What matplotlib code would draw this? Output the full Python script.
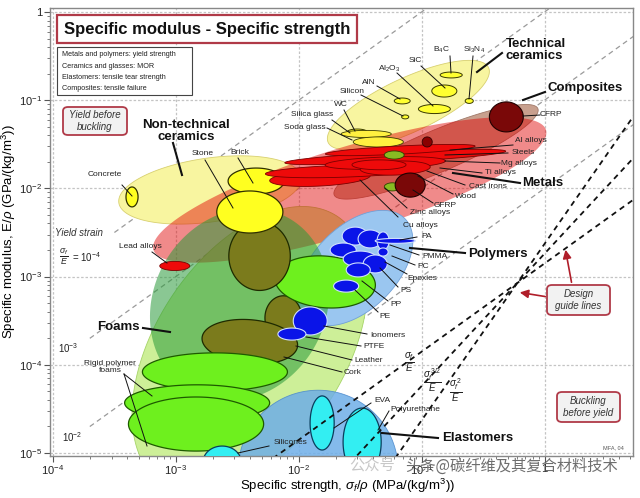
import numpy as np
import matplotlib
matplotlib.use("Agg")
import matplotlib.pyplot as plt
from matplotlib.lines import Line2D
from matplotlib.patches import FancyBboxPatch, Rectangle, FancyArrowPatch

plt.rcParams['font.family'] = ['Liberation Sans', 'DejaVu Sans']
plt.rcParams['mathtext.fontset'] = 'custom'
plt.rcParams['mathtext.rm'] = 'Liberation Sans'
plt.rcParams['mathtext.it'] = 'Liberation Sans:italic'
plt.rcParams['mathtext.bf'] = 'Liberation Sans:bold'
plt.rcParams['mathtext.sf'] = 'Liberation Sans'

# ------------------------------------------------------------------ data
# Family envelopes (drawn back to front): centre strength (MPa/(kg/m3)),
# centre modulus (GPa/(kg/m3)), semi-axes in decades, tilt in degrees
env_names = ['Foams', 'Elastomers', 'Non-technical ceramics', 'Technical ceramics',
             'Composites', 'Metals', 'Polymers', 'Natural materials']
env_strength = [4.0e-3, 1.44e-2, 1.9e-3, 7.8e-2, 0.131, 2.6e-2, 2.88e-2, 3.3e-3]
env_modulus = [1.47e-4, 6.4e-6, 9.6e-3, 8.8e-2, 2.6e-2, 9.6e-3, 1.25e-3, 4.8e-4]
env_span_a = [1.30, 0.65, 0.75, 0.72, 0.90, 1.67, 0.57, 0.81]
env_span_b = [0.77, 0.65, 0.26, 0.22, 0.17, 0.35, 0.34, 0.70]
env_tilt = [57, 0, 8, 25, 23, 17, 45, 60]

# Individual materials
mat_names = ['olive2', 'olive3', 'Flexible foams', 'Cork/wood', 'Rigid foam 1', 'Rigid foam 2',
             'Rigid foam 3', 'Silicones', 'EVA', 'Polyurethane',
             'Concrete', 'Brick', 'Stone',
             'B4C', 'SiC', 'Si3N4', 'AlN', 'Al2O3', 'Silicon', 'WC', 'Silica glass', 'Soda glass',
             'Cu/Zinc alloys', 'Cast irons', 'Steels', 'Al alloys', 'Mg alloys', 'Ti alloys',
             'Ni alloys', 'Lead alloys', 'W alloys', 'Wood 1', 'Wood 2', 'CFRP', 'GFRP',
             'p1', 'p2', 'p3', 'p4', 'p5', 'p6', 'PA', 'PA2', 'PMMA', 'PE', 'Ionomers', 'PTFE']
mat_group = ['nat', 'nat', 'foam', 'nat', 'foam', 'foam', 'foam', 'elast', 'elast', 'elast',
             'ntc', 'ntc', 'ntc',
             'tc', 'tc', 'tc', 'tc', 'tc', 'tc', 'tc', 'glass', 'glass',
             'metal', 'metal', 'metal', 'metal', 'metal', 'metal', 'metal', 'metal', 'dark',
             'wood', 'wood', 'comp', 'comp',
             'poly', 'poly', 'poly', 'poly', 'poly', 'poly', 'poly', 'poly', 'poly', 'poly', 'poly', 'poly']
mat_strength = [7.5e-3, 4.0e-3, 1.64e-2, 4.8e-3, 2.08e-3, 1.49e-3, 1.46e-3, 2.38e-3, 1.55e-2, 3.28e-2,
                4.4e-4, 4.5e-3, 4.0e-3,
                0.174, 0.153, 0.244, 0.0695, 0.127, 0.0735, 0.0299, 0.0354, 0.0444,
                0.0149, 0.0239, 0.061, 0.067, 0.0506, 0.061, 0.045, 9.8e-4, 0.111,
                0.0598, 0.0577, 0.489, 0.0807,
                0.0288, 0.0381, 0.023, 0.0316, 0.0419, 0.0305, 0.0486, 0.061, 0.0486, 0.0243, 0.0124, 8.8e-3]
mat_modulus = [3.4e-4, 1.82e-4, 8.7e-4, 1.71e-3, 8.3e-5, 3.7e-5, 2.13e-5, 7.9e-6, 2.19e-5, 1.33e-5,
               8.0e-3, 1.21e-2, 5.4e-3,
               0.193, 0.127, 0.098, 0.098, 0.0794, 0.0646, 0.0436, 0.0414, 0.0336,
               0.0131, 0.0157, 0.0227, 0.0272, 0.0194, 0.017, 0.0185, 1.32e-3, 0.0336,
               0.0239, 0.0104, 0.0646, 0.0109,
               2.88e-3, 2.67e-3, 2.0e-3, 1.58e-3, 1.39e-3, 1.19e-3, 2.54e-3, 2.54e-3, 1.9e-3, 7.8e-4, 3.14e-4, 2.23e-4]
mat_span_a = [0.15, 0.39, 0.41, 0.25, 0.59, 0.59, 0.55, 0.155, 0.098, 0.155,
              0.049, 0.228, 0.269,
              0.090, 0.102, 0.033, 0.065, 0.130, 0.029, 0.081, 0.204, 0.204,
              0.41, 0.65, 0.90, 0.61, 0.49, 0.285, 0.22, 0.122, 0.041,
              0.081, 0.065, 0.138, 0.122,
              0.106, 0.098, 0.106, 0.138, 0.098, 0.098, 0.049, 0.163, 0.041, 0.102, 0.138, 0.114]
mat_span_b = [0.18, 0.18, 0.21, 0.28, 0.155, 0.147, 0.22, 0.13, 0.22, 0.277,
              0.081, 0.106, 0.171,
              0.024, 0.049, 0.020, 0.024, 0.037, 0.016, 0.024, 0.029, 0.041,
              0.065, 0.049, 0.041, 0.033, 0.049, 0.057, 0.04, 0.037, 0.041,
              0.033, 0.033, 0.122, 0.098,
              0.073, 0.073, 0.057, 0.065, 0.073, 0.057, 0.073, 0.020, 0.033, 0.049, 0.114, 0.049]
mat_tilt = [0, -5, -5, 0, 0, 0, 0, 0, 0, 0,
            0, 0, 0,
            0, 0, 0, 0, 0, 0, 0, 0, 0,
            3, 2, 3, 3, 2, 2, 0, 0, 0,
            0, 0, 0, 0,
            0, 0, 0, 0, 0, 0, 0, 0, 0, 0, 0, 0]

# Guide lines
strain_values = [1e-4, 1e-3, 1e-2, 1e-1]
strain_start = [2.65e-4, 1.74e-4, 1.82e-4, 1e-4]
guide_exponents = [1.0, 1.5, 2.0]
guide_anchor = (0.60, 8.45e-4)

x_ticks = [1e-4, 1e-3, 1e-2, 1e-1, 1]
x_ticklabels = ['10$^{-4}$', '10$^{-3}$', '10$^{-2}$', '10$^{-1}$', '1']
y_ticks = [1e-5, 1e-4, 1e-3, 1e-2, 1e-1, 1]
y_ticklabels = ['10$^{-5}$', '10$^{-4}$', '10$^{-3}$', '10$^{-2}$', '10$^{-1}$', '1']

# ------------------------------------------------------------------ styles
env_style = {
    'Foams': dict(fc='#cdef98', ec='#a6d468', lw=0.6, alpha=1.0),
    'Elastomers': dict(fc='#6eaee8', ec='#4a88cc', lw=0.6, alpha=0.85),
    'Non-technical ceramics': dict(fc='#f8f5a0', ec='#d8d070', lw=0.6, alpha=1.0),
    'Technical ceramics': dict(fc='#f8f5a0', ec='#d8d070', lw=0.6, alpha=1.0),
    'Composites': dict(fc='#c8a08e', ec='#a07868', lw=0.6, alpha=1.0),
    'Metals': dict(fc='#e00000', ec='none', lw=0, alpha=0.46),
    'Polymers': dict(fc='#9ac6f0', ec='#70a0d8', lw=0.6, alpha=1.0),
    'Natural materials': dict(fc='#2a9a3a', ec='none', lw=0, alpha=0.55),
}
grp_style = {
    'nat': dict(fc='#7b7b1c', ec='#1e2a00', lw=0.9),
    'foam': dict(fc='#6ef01e', ec='#1e5a00', lw=0.9),
    'elast': dict(fc='#33eef2', ec='#0a3d5c', lw=0.9),
    'ntc': dict(fc='#ffff20', ec='#303000', lw=0.9),
    'tc': dict(fc='#ffff30', ec='#3a3a00', lw=0.7),
    'glass': dict(fc='#fff040', ec='#3a3a00', lw=0.6),
    'metal': dict(fc='#ee0a0a', ec='#7a0000', lw=0.6),
    'dark': dict(fc='#8b0000', ec='#300000', lw=0.6),
    'wood': dict(fc='#88bb22', ec='#304000', lw=0.6),
    'comp': dict(fc='#7a0808', ec='#200000', lw=0.8),
    'poly': dict(fc='#0a14e8', ec='#d0e0ff', lw=0.8),
}

W, H = 640, 498
fig = plt.figure(figsize=(W / 100, H / 100), dpi=100)
ax = fig.add_axes([50 / W, 1 - 456 / H, 583 / W, 448 / H])
ax.set_xscale('log')
ax.set_yscale('log')
ax.set_xlim(10 ** -4.024, 10 ** 0.72)
ax.set_ylim(10 ** -5.034, 10 ** 0.045)

# ratio of pixels per x-decade to pixels per y-decade (so tilts are visual)
p0 = ax.transData.transform((1, 1))
K = (ax.transData.transform((10, 1))[0] - p0[0]) / (ax.transData.transform((1, 10))[1] - p0[1])


def ell(x, y, a, b, ang, z, **kw):
    t = np.linspace(0, 2 * np.pi, 241)
    th = np.deg2rad(ang)
    u = a * np.cos(t) * np.cos(th) - b * np.sin(t) * np.sin(th)
    v = a * np.cos(t) * np.sin(th) + b * np.sin(t) * np.cos(th)
    ax.fill(x * 10 ** u, y * 10 ** (v * K), zorder=z, **kw)


ax.grid(True, which='major', color='#c4c4c4', lw=0.9, ls=(0, (2, 1.5)))
ax.set_axisbelow(True)

# gray strain guide lines
xr = np.logspace(-4.1, 0.8, 50)
for s, x0 in zip(strain_values, strain_start):
    xs = xr[xr >= x0]
    ax.plot(xs, 1e-3 * xs / s, color='#9a9a9a', lw=0.9, ls=(0, (4, 3)), zorder=1)

for i, n in enumerate(env_names):
    st = env_style[n]
    ell(env_strength[i], env_modulus[i], env_span_a[i], env_span_b[i], env_tilt[i], 2 + i * 0.01,
        facecolor=st['fc'], edgecolor=st['ec'], linewidth=st['lw'], alpha=st['alpha'])

for i, n in enumerate(mat_names):
    st = grp_style[mat_group[i]]
    ell(mat_strength[i], mat_modulus[i], mat_span_a[i], mat_span_b[i], mat_tilt[i], 3 + i * 0.01,
        facecolor=st['fc'], edgecolor=st['ec'], linewidth=st['lw'])

# black design guide lines
xg = np.logspace(-3, 0.8, 60)
for n in guide_exponents:
    ax.plot(xg, guide_anchor[1] * (xg / guide_anchor[0]) ** n, color='#111111', lw=1.3,
            ls=(0, (3, 2.5)), zorder=6)

ax.set_xticks(x_ticks)
ax.set_xticklabels(x_ticklabels)
ax.set_yticks(y_ticks)
ax.set_yticklabels(y_ticklabels)
ax.tick_params(which='major', direction='out', length=4, width=0.8, color='#555555',
               labelsize=8, labelcolor='#222222', pad=1.5)
ax.tick_params(which='minor', direction='out', length=2.5, width=0.6, color='#666666')
for sp in ax.spines.values():
    sp.set_color('#888888')
    sp.set_linewidth(1.0)
ax.set_xlabel('Specific strength, $\\sigma_f/\\rho$ (MPa/(kg/m$^3$))', fontsize=9.5)
ax.set_ylabel('Specific modulus, E/$\\rho$ (GPa/(kg/m$^3$))', fontsize=9.5)
ax.xaxis.set_label_coords(0.51, -0.046)
ax.yaxis.set_label_coords(-0.055, 0.5)


# ------------------------------------------------------------------ annotations (figure pixels)
def F(px, py):
    return px / W, 1 - py / H


def T(px, py, s, size=6, ha='center', va='center', **kw):
    fig.text(*F(px, py), s, fontsize=size, ha=ha, va=va, zorder=20, **kw)


def L(x1, y1, x2, y2, lw=0.7, color='#111111'):
    a, b = F(x1, y1)
    c, d = F(x2, y2)
    fig.add_artist(Line2D([a, c], [b, d], lw=lw, color=color, transform=fig.transFigure, zorder=19))


member_labels = [
    ('B$_4$C', 441, 50, 450, 56, 451, 73), ('Si$_3$N$_4$', 474, 50, 473, 56, 469, 99),
    ('SiC', 415, 61, 421, 66, 445, 88), ('Al$_2$O$_3$', 389, 69, 397, 73, 433, 106),
    ('AlN', 369, 82, 377, 86, 400, 99), ('Silicon', 352, 91, 361, 95, 403, 116),
    ('WC', 341, 105, 344, 110, 355, 131), ('Silica glass', 312, 115, 332, 120, 350, 133),
    ('Soda glass', 305, 127, 327, 128, 352, 140), ('CFRP', 551, 114, 540, 115, 523, 116),
    ('Al alloys', 531, 141, 513, 145, 450, 150), ('Steels', 523, 152, 508, 153, 445, 155),
    ('Mg alloys', 519, 163, 500, 163, 445, 161), ('Ti alloys', 500, 173, 482, 173, 440, 168),
    ('Cast irons', 488, 187, 465, 185, 427, 171), ('Wood', 466, 196, 453, 194, 418, 176),
    ('GFRP', 445, 205, 433, 203, 413, 190), ('Zinc alloys', 430, 213, 407, 208, 385, 188),
    ('Cu alloys', 420, 225, 398, 217, 360, 180), ('PA', 427, 236, 417, 237, 400, 240),
    ('PMMA', 435, 257, 419, 255, 390, 245), ('PC', 423, 267, 415, 265, 392, 256),
    ('Epoxies', 422, 278, 407, 274, 385, 262), ('PS', 406, 290, 398, 287, 380, 268),
    ('PP', 396, 305, 388, 301, 362, 281), ('PE', 385, 316, 378, 312, 355, 290),
    ('Ionomers', 388, 335, 367, 334, 324, 326), ('PTFE', 374, 347, 361, 346, 306, 337),
    ('Leather', 369, 360, 352, 360, 296, 346), ('Cork', 353, 372, 342, 372, 284, 357),
    ('EVA', 382, 400, 371, 403, 334, 428), ('Polyurethane', 415, 409, 389, 411, 378, 430),
    ('Silicones', 291, 443, 269, 446, 238, 453), ('Concrete', 105, 175, 122, 185, 132, 196),
    ('Stone', 203, 153, 205, 160, 233, 208), ('Brick', 240, 152, 238, 158, 253, 183),
    ('Lead alloys', 140, 247, 152, 252, 167, 263),
]
for s, tx, ty, x1, y1, x2, y2 in member_labels:
    T(tx, ty, s, size=6, color='#222222')
    L(x1, y1, x2, y2)
T(110, 367, 'Rigid polymer\nfoams', size=6, color='#222222', linespacing=1.0)
L(124, 374, 152, 396)
L(124, 374, 147, 446)

family_labels = [
    ('Technical\nceramics', 506, 50, 'left', 502, 53, 477, 72),
    ('Composites', 547, 88, 'left', 545, 92, 523, 100),
    ('Non-technical\nceramics', 186, 131, 'center', 173, 143, 182, 175),
    ('Metals', 522, 183, 'left', 520, 183, 453, 173),
    ('Polymers', 468, 254, 'left', 465, 253, 410, 248),
    ('Foams', 97, 327, 'left', 143, 328, 170, 332),
    ('Elastomers', 442, 438, 'left', 438, 438, 382, 433),
]
for s, tx, ty, ha, x1, y1, x2, y2 in family_labels:
    T(tx, ty, s, size=9.5, ha=ha, weight='bold', color='#111111', linespacing=0.95)
    L(x1, y1, x2, y2, lw=1.5)

# strain labels
T(79, 233, 'Yield strain', size=7, style='italic', color='#333333')
T(64, 257, '$\\frac{\\sigma_f}{E}$', size=9, color='#222222')
T(72, 257, '= 10$^{-4}$', size=7, ha='left', color='#222222')
T(68, 348, '10$^{-3}$', size=7, color='#222222')
T(72, 437, '10$^{-2}$', size=7, color='#222222')
T(409, 362, '$\\frac{\\sigma_f}{E}$', size=10, color='#222222')
T(432, 380, '$\\frac{\\sigma_f^{\\,3/2}}{E}$', size=10, color='#222222')
T(456, 390, '$\\frac{\\sigma_f^{\\,2}}{E}$', size=10, color='#222222')

# title and info boxes
fig.add_artist(Rectangle(F(57, 43), 300 / W, 28 / H, transform=fig.transFigure, fc='white',
                         ec='#b03a48', lw=1.6, zorder=15))
T(207, 29, 'Specific modulus - Specific strength', size=12, weight='bold', color='#111111')
fig.add_artist(Rectangle(F(57, 95), 135 / W, 48 / H, transform=fig.transFigure, fc='white',
                         ec='#444444', lw=0.8, zorder=15))
for k, s in enumerate(['Metals and polymers: yield strength', 'Ceramics and glasses: MOR',
                       'Elastomers: tensile tear strength', 'Composites: tensile failure']):
    T(62, 55 + k * 11.3, s, size=5.2, ha='left', color='#222222')


def rbox(x0, y0, x1, y1, lines):
    fig.add_artist(FancyBboxPatch(F(x0, y1), (x1 - x0) / W, (y1 - y0) / H,
                                  boxstyle='round,pad=0,rounding_size=0.008',
                                  transform=fig.transFigure, fc='#f2f2f2', ec='#b03a48',
                                  lw=1.3, zorder=15))
    cy = (y0 + y1) / 2
    T((x0 + x1) / 2, cy, lines, size=7, style='italic', color='#333333', linespacing=1.15)


rbox(63, 107, 127, 135, 'Yield before\nbuckling')
rbox(547, 285, 610, 315, 'Design\nguide lines')
rbox(557, 392, 620, 422, 'Buckling\nbefore yield')
for (x1, y1, x2, y2) in [(548, 297, 517, 292), (572, 285, 565, 247)]:
    fig.add_artist(FancyArrowPatch(F(x1, y1), F(x2, y2), transform=fig.transFigure,
                                   arrowstyle='-|>,head_length=5,head_width=2.5',
                                   color='#b01e2a', lw=1.2, zorder=16))
T(613, 448, 'MFA, 04', size=4, color='#555555')

# watermark (overlays the tick-label row as in the source image)
T(372, 466, '公众号', size=11, ha='center', color='#c8c8c8',
  family=['Noto Sans CJK SC', 'DejaVu Sans'])
T(512, 466, '头条@碳纤维及其复合材料技术', size=11, ha='center', color='#555555', alpha=0.85,
  family=['Noto Sans CJK SC', 'DejaVu Sans'])

fig.savefig('out.png', dpi=100)
